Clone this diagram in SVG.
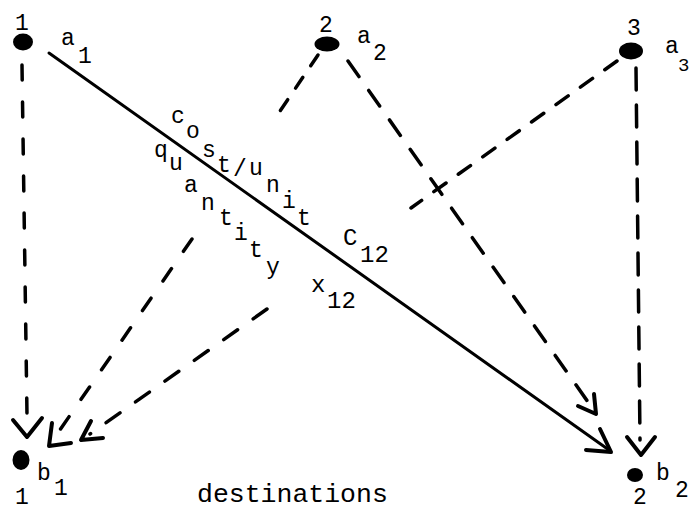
<svg xmlns="http://www.w3.org/2000/svg" width="690" height="511" viewBox="0 0 690 511">
<style>
text{font-family:"Liberation Mono","DejaVu Sans Mono",monospace;fill:#000;}
.lbl{font-size:23px;}
.sl{font-size:23px;}
.big{font-size:24px;}
.dest{font-size:26.5px;}
.dot{fill:#000;}
.solid{stroke:#000;stroke-width:3;fill:none;stroke-linecap:round;}
.dash{stroke:#000;stroke-width:3.5;fill:none;stroke-linecap:round;}
.head{stroke:#000;stroke-width:4;fill:none;stroke-linecap:round;stroke-linejoin:round;}
</style>
<rect width="690" height="511" fill="#fff"/>
<g id="connectors">
  <g id="e-1-b1">
    <path class="dash" d="M22,65 L27,415" stroke-dasharray="15 22"/>
    <path class="head" d="M13,420 L27,437 L42,418"/>
  </g>
  <g id="e-2-b1">
    <path class="dash" d="M318,55 L278,114" stroke-dasharray="13 14"/>
    <path class="dash" d="M192,239 L55,437" stroke-dasharray="15 21"/>
    <path class="head" d="M52,423 L49,446 L71,443"/>
  </g>
  <g id="e-3-b1">
    <path class="dash" d="M617,61 L411,208" stroke-dasharray="15 15"/>
    <path class="dash" d="M267,309 L90,434" stroke-dasharray="17 19"/>
    <path class="head" d="M91,421 L81,440 L103,438"/>
  </g>
  <g id="e-2-b2">
    <path class="dash" d="M348,61 L588,402" stroke-dasharray="19 17"/>
    <path class="head" d="M578,406 L596,414 L594,394"/>
  </g>
  <g id="e-3-b2">
    <path class="dash" d="M636,68 L640,440" stroke-dasharray="22 15"/>
    <path class="head" d="M627,437 L641,455 L655,437"/>
  </g>
  <g id="e-1-b2">
    <path class="solid" d="M49,53 L609,450"/>
    <path class="head" d="M586,450 L611,452 L600,429"/>
  </g>
</g>
<g id="node-1">
  <ellipse class="dot" cx="23" cy="42" rx="10" ry="8.5"/>
  <text class="lbl" x="15" y="30">1</text>
  <text class="lbl" x="61" y="45">a</text>
  <text class="lbl" x="78" y="63">1</text>
</g>
<g id="node-2">
  <ellipse class="dot" cx="327" cy="44" rx="12.5" ry="7.5"/>
  <text class="lbl" x="319" y="32">2</text>
  <text class="lbl" x="357" y="43">a</text>
  <text class="lbl" x="373" y="60">2</text>
</g>
<g id="node-3">
  <ellipse class="dot" cx="631" cy="51" rx="12" ry="8.5"/>
  <text class="lbl" x="627" y="35">3</text>
  <text class="lbl" x="665" y="53">a</text>
  <text class="lbl" x="678" y="71" style="font-size:19px">3</text>
</g>
<g id="node-b1">
  <ellipse class="dot" cx="21" cy="460" rx="8.5" ry="10"/>
  <text class="lbl" x="37" y="480">b</text>
  <text class="lbl" x="54" y="495">1</text>
  <text class="lbl" x="15" y="504">1</text>
</g>
<g id="node-b2">
  <ellipse class="dot" cx="635" cy="475" rx="8" ry="7"/>
  <text class="lbl" x="656" y="480">b</text>
  <text class="lbl" x="675" y="497">2</text>
  <text class="lbl" x="633" y="504">2</text>
</g>
<g id="labels">
  <text class="sl" x="171" y="123">c</text>
  <text class="sl" x="186" y="138">o</text>
  <text class="sl" x="202" y="157">s</text>
  <text class="sl" x="217" y="172">t</text>
  <text class="sl" x="233" y="176">/</text>
  <text class="sl" x="249" y="175">u</text>
  <text class="sl" x="266" y="192">n</text>
  <text class="sl" x="282" y="208">i</text>
  <text class="sl" x="297" y="225">t</text>
  <text class="sl" x="154" y="157">q</text>
  <text class="sl" x="169" y="170">u</text>
  <text class="sl" x="184" y="192">a</text>
  <text class="sl" x="201" y="210">n</text>
  <text class="sl" x="219" y="225">t</text>
  <text class="sl" x="234" y="240">i</text>
  <text class="sl" x="249" y="257">t</text>
  <text class="sl" x="266" y="274">y</text>
  <text class="big" x="343" y="245">C</text>
  <text class="big" x="360" y="262">12</text>
  <text class="big" x="311" y="292">x</text>
  <text class="big" x="327" y="308">12</text>
  <text class="dest" x="197" y="502">destinations</text>
</g>
</svg>
